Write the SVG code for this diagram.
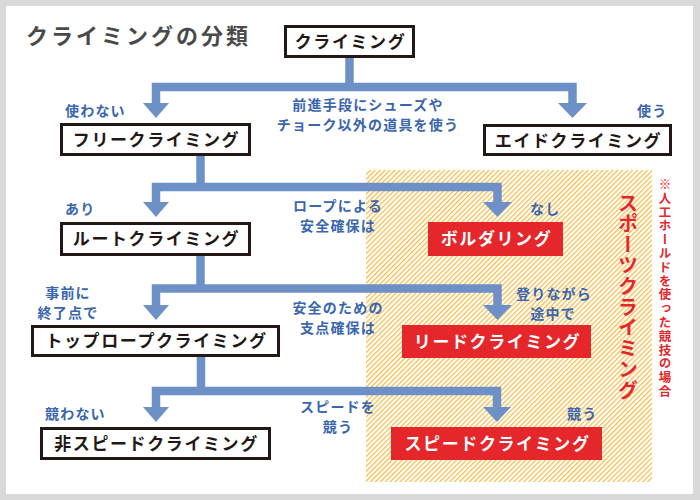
<svg xmlns="http://www.w3.org/2000/svg" width="700" height="500" viewBox="0 0 700 500">
<defs>
<pattern id="hatch" patternUnits="userSpaceOnUse" width="3.5" height="3.5" patternTransform="rotate(45)">
<rect x="0" y="0" width="1.25" height="3.5" fill="#f7bc48"/>
</pattern>
<style>
.box{fill:#fff;stroke:#231815;stroke-width:3}
.rbox{fill:#e5262b}
.nt{font-family:"Noto Sans CJK JP","Noto Sans",sans-serif;font-weight:700;font-size:17px;letter-spacing:1.6px;fill:#231815;text-anchor:middle}
.rt{fill:#fff}
.lb{font-family:"Noto Sans CJK JP","Noto Sans",sans-serif;font-weight:700;font-size:14px;letter-spacing:1.2px;fill:#3a66ad}
.mid{text-anchor:middle}
.bar{fill:none;stroke:#6d90c7;stroke-width:8.5;stroke-linejoin:miter}
.head{fill:#6d90c7}
.vt{font-family:"Noto Sans CJK JP",sans-serif;font-weight:700;fill:#e5262b;writing-mode:vertical-rl}
</style>
</defs>
<rect x="0" y="0" width="700" height="500" fill="#d9d9d9"/>
<rect x="6" y="6" width="687" height="488" fill="#fff"/>
<rect x="366" y="170" width="286" height="312" fill="url(#hatch)"/>
<text x="26" y="44" font-family="'Noto Sans CJK JP',sans-serif" font-weight="700" font-size="22" letter-spacing="3" fill="#4a4a4a">クライミングの分類</text>
<g id="connectors">
<path class="bar" d="M349.5,58 V87"/>
<path class="bar" d="M156,104 V87 H572.5 V104"/>
<polygon class="head" points="143,103 169,103 156,118"/>
<polygon class="head" points="558,103 587,103 572.5,118"/>
<path class="bar" d="M200.5,156 V187"/>
<path class="bar" d="M156,203 V187 H497.5 V203"/>
<polygon class="head" points="143,202 169,202 156,217"/>
<polygon class="head" points="483,202 512,202 497.5,217"/>
<path class="bar" d="M200.5,256 V288.5"/>
<path class="bar" d="M156,306 V288.5 H497.5 V306"/>
<polygon class="head" points="143,305 169,305 156,320"/>
<polygon class="head" points="483,305 512,305 497.5,320"/>
<path class="bar" d="M201,357 V391"/>
<path class="bar" d="M156,408 V391 H497 V408"/>
<polygon class="head" points="143,407 169,407 156,422"/>
<polygon class="head" points="483,407 511,407 497,422"/>
</g>
<g id="labels">
<text class="lb" x="65" y="116">使わない</text>
<text class="lb" x="637" y="116">使う</text>
<text class="lb mid" x="368" y="110">前進手段にシューズや</text>
<text class="lb mid" x="368" y="130">チョーク以外の道具を使う</text>
<text class="lb" x="65" y="214">あり</text>
<text class="lb mid" x="338" y="211">ロープによる</text>
<text class="lb mid" x="338" y="231">安全確保は</text>
<text class="lb" x="530" y="214">なし</text>
<text class="lb mid" x="68" y="298">事前に</text>
<text class="lb mid" x="68" y="317.5">終了点で</text>
<text class="lb mid" x="338" y="313">安全のための</text>
<text class="lb mid" x="338" y="333">支点確保は</text>
<text class="lb mid" x="554" y="299">登りながら</text>
<text class="lb mid" x="553" y="318.5">途中で</text>
<text class="lb" x="45" y="419">競わない</text>
<text class="lb mid" x="338" y="412">スピードを</text>
<text class="lb mid" x="338" y="432">競う</text>
<text class="lb" x="567" y="419">競う</text>
</g>
<g id="n-climbing"><rect class="box" x="285.5" y="26.5" width="128" height="30"/><text class="nt" x="350.5" y="47.5">クライミング</text></g>
<g id="n-free"><rect class="box" x="61.5" y="124.5" width="188" height="30"/><text class="nt" x="156.5" y="146">フリークライミング</text></g>
<g id="n-aid"><rect class="box" x="484.5" y="125.5" width="186" height="29"/><text class="nt" x="578.5" y="146.5">エイドクライミング</text></g>
<g id="n-route"><rect class="box" x="61.5" y="223.5" width="188" height="31"/><text class="nt" x="156.5" y="245">ルートクライミング</text></g>
<g id="n-boulder"><rect class="rbox" x="428" y="222" width="135" height="34"/><text class="nt rt" x="496.5" y="245">ボルダリング</text></g>
<g id="n-toprope"><rect class="box" x="32.5" y="326.5" width="246" height="29"/><text class="nt" x="156.5" y="347">トップロープクライミング</text></g>
<g id="n-lead"><rect class="rbox" x="402" y="325" width="189" height="33"/><text class="nt rt" x="497.5" y="347.5">リードクライミング</text></g>
<g id="n-nonspeed"><rect class="box" x="41.5" y="428.5" width="228" height="30"/><text class="nt" x="156.5" y="449.5">非スピードクライミング</text></g>
<g id="n-speed"><rect class="rbox" x="391" y="427" width="211" height="33"/><text class="nt rt" x="497.5" y="449.5">スピードクライミング</text></g>
<g id="n-sport"><text class="vt" x="628" y="193" font-size="20" letter-spacing="0.8">スポーツクライミング</text></g>
<g id="n-note"><text class="vt" x="665" y="178" font-size="12.5" letter-spacing="1.3">※人工ホールドを使った競技の場合</text></g>
</svg>
